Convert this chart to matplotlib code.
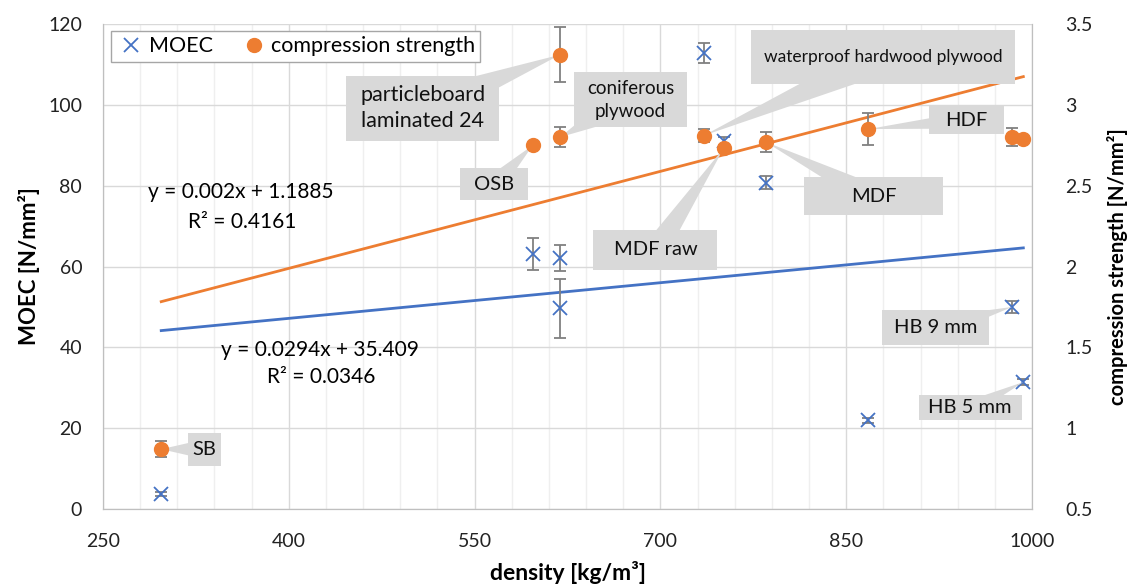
import numpy as np
import matplotlib
matplotlib.use('Agg')
import matplotlib.pyplot as plt
from matplotlib.patches import Polygon, Rectangle
from matplotlib.lines import Line2D
from matplotlib.transforms import IdentityTransform

plt.rcParams['font.family'] = ['Lato', 'DejaVu Sans']

# data
materials = ['SB', 'OSB', 'particleboard\nlaminated 24', 'coniferous\nplywood',
             'waterproof hardwood plywood', 'MDF raw', 'MDF', 'HDF', 'HB 9 mm', 'HB 5 mm']
density = [297, 597, 619, 619, 735, 751, 785, 868, 984, 993]
moec = [3.7, 63.1, 62.1, 49.7, 112.8, 91.0, 80.7, 22.0, 50.0, 31.4]
moec_err = [0.4, 3.9, 3.3, 7.3, 2.4, 1.0, 1.6, 0.6, 1.5, 0.8]
comp = [0.87, 2.75, 3.31, 2.80, 2.81, 2.73, 2.77, 2.85, 2.80, 2.79]
comp_err = [0.05, 0.0, 0.17, 0.06, 0.04, 0.0, 0.06, 0.10, 0.055, 0.0]

# trendline coefficients as printed on the chart
moec_fit = (0.0294, 35.409)
comp_fit = (0.002, 1.1885)

BLUE = '#4472C4'
ORANGE = '#ED7D31'
GRID = '#d9d9d9'
BOX = '#d9d9d9'

fig = plt.figure(figsize=(11.33, 5.86), dpi=100)
ax = fig.add_axes([103 / 1133, 1 - 509 / 586, 929 / 1133, 485 / 586])
ax2 = ax.twinx()

ax.set_xlim(250, 1000)
ax.set_ylim(0, 120)
ax2.set_ylim(0.5, 3.5)
ax.set_xticks(np.arange(250, 1001, 150))
ax.set_xticks(np.arange(250, 1001, 30), minor=True)
ax.set_yticks(np.arange(0, 121, 20))
ax2.set_yticks(np.arange(0.5, 3.51, 0.5))
ax2.set_yticklabels(['{:g}'.format(t) for t in np.arange(0.5, 3.51, 0.5)])

ax.grid(True, which='major', color=GRID, lw=1.0, zorder=0)
ax.grid(True, which='minor', axis='x', color='#efefef', lw=1.0, zorder=0)
ax.set_axisbelow(True)
for a in (ax, ax2):
    a.tick_params(which='both', length=0, labelsize=14, colors='#222222')
    a.spines['top'].set_visible(False)
    for s in ('left', 'right', 'bottom'):
        a.spines[s].set_color('#bfbfbf')
ax.tick_params(axis='x', pad=17)
ax.tick_params(axis='y', pad=15)
ax2.tick_params(axis='y', pad=24)

ax.set_xlabel('density [kg/m³]', fontsize=16.5, fontweight='bold', labelpad=8)
ax.set_ylabel('MOEC [N/mm²]', fontsize=16, fontweight='bold', labelpad=6)
ax2.set_ylabel('compression strength [N/mm²]', fontsize=14.5, fontweight='bold', labelpad=10)

# trendlines over the data range
xs = np.array([min(density), max(density)])
ax.plot(xs, moec_fit[0] * xs + moec_fit[1], color=BLUE, lw=2, zorder=2)
ax2.plot(xs, comp_fit[0] * xs + comp_fit[1], color=ORANGE, lw=2, zorder=2)

# points with error bars
ax.errorbar(density, moec, yerr=moec_err, fmt='none', ecolor='#808080', elinewidth=1.3,
            capsize=4, capthick=1.3, zorder=3)
ax.plot(density, moec, 'x', color=BLUE, ms=9.5, mew=1.3, zorder=4)
ax2.errorbar(density, comp, yerr=comp_err, fmt='none', ecolor='#808080', elinewidth=1.3,
             capsize=4, capthick=1.3, zorder=6)
ax2.plot(density, comp, 'o', color=ORANGE, ms=10, zorder=7)

# regression text
eq_font = 15
fig.text(241 / 1133, 1 - 192 / 586, 'y = 0.002x + 1.1885', ha='center', va='center', fontsize=eq_font)
fig.text(242 / 1133, 1 - 222 / 586, 'R² = 0.4161', ha='center', va='center', fontsize=eq_font)
fig.text(320 / 1133, 1 - 350 / 586, 'y = 0.0294x + 35.409', ha='center', va='center', fontsize=eq_font)
fig.text(321 / 1133, 1 - 377 / 586, 'R² = 0.0346', ha='center', va='center', fontsize=eq_font)

# callouts: (material index, target axis, box centre in (density, MOEC units), box w, h px, fontsize)
callouts = [
    (0, 'comp', (332, 14.8), 33, 33, 14.5),
    (1, 'comp', (566, 80.4), 68, 32, 14.5),
    (2, 'comp', (508, 99.2), 153, 65, 15.5),
    (3, 'comp', (676, 101.2), 113, 55, 13.5),
    (4, 'comp', (880, 111.8), 264, 54, 12.5),
    (5, 'comp', (696, 64.1), 124, 40, 14.5),
    (6, 'comp', (872, 77.4), 139, 38, 14.5),
    (7, 'comp', (947, 96.2), 75, 28, 14.5),
    (8, 'moec', (922, 44.8), 107, 35, 14.5),
    (9, 'moec', (950, 25.0), 103, 25, 14.5),
]
fig.canvas.draw()
ident = IdentityTransform()
for i, kind, centre, w, h, fs in callouts:
    if kind == 'comp':
        tx, ty = ax2.transData.transform((density[i], comp[i]))
    else:
        tx, ty = ax.transData.transform((density[i], moec[i]))
    cx, cy = ax.transData.transform(centre)
    dx, dy = tx - cx, ty - cy
    n = np.hypot(dx, dy)
    px, py = -dy / n, dx / n
    half = min(18, 0.3 * min(w, h))
    wedge = Polygon([(cx + px * half, cy + py * half), (cx - px * half, cy - py * half), (tx, ty)],
                    closed=True, fc=BOX, ec='none', transform=ident, zorder=4, clip_on=False)
    ax2.add_patch(wedge)
    box = Rectangle((cx - w / 2, cy - h / 2), w, h, fc=BOX, ec='none', transform=ident,
                    zorder=5, clip_on=False)
    ax2.add_patch(box)
    ax2.text(cx, cy, materials[i], transform=ident, ha='center', va='center', fontsize=fs,
             color='#111111', zorder=8, linespacing=1.4, multialignment='center')

handles = [Line2D([], [], ls='none', marker='x', color=BLUE, ms=9.5, mew=1.3),
           Line2D([], [], ls='none', marker='o', color=ORANGE, ms=10)]
leg = ax2.legend(handles, ['MOEC', 'compression strength'], ncol=2, loc='upper left',
                 bbox_to_anchor=(8 / 929, 478 / 485), borderaxespad=0, fancybox=False,
                 edgecolor='#a6a6a6', framealpha=1, fontsize=15.5, handletextpad=0.1,
                 columnspacing=1.2, handlelength=1.4, borderpad=0.25)
leg.set_zorder(10)

fig.savefig('out.png', dpi=100)
